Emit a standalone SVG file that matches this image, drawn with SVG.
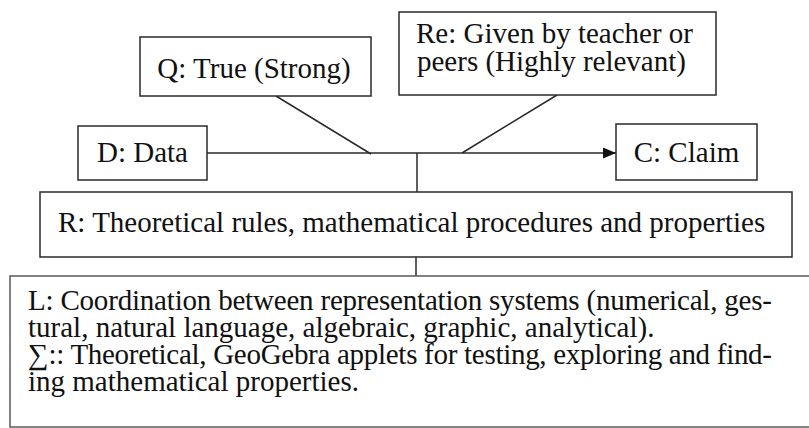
<svg xmlns="http://www.w3.org/2000/svg" width="809" height="428" viewBox="0 0 809 428">
<style>
  .box { fill: #ffffff; stroke: #2a2a2a; stroke-width: 1.5; }
  .boxL { fill: #ffffff; stroke: #5a5a5a; stroke-width: 1.5; }
  .t { font-family: "Liberation Serif", "Times New Roman", serif; font-size: 29px; fill: #111111; }
  .c { text-anchor: middle; }
  .edge { stroke: #2a2a2a; stroke-width: 1.5; fill: none; }
</style>
<defs>
  <marker id="arrow" viewBox="0 0 13 11" refX="13" refY="5.5" markerWidth="13" markerHeight="11" markerUnits="userSpaceOnUse" orient="auto">
    <path d="M0,0 L13,5.5 L0,11 Z" fill="#111111"/>
  </marker>
</defs>
<rect width="809" height="428" fill="#ffffff"/>
<g id="connectors">
  <line class="edge" x1="207" y1="153" x2="616" y2="153" marker-end="url(#arrow)"/>
  <line class="edge" x1="276" y1="96" x2="371" y2="154"/>
  <line class="edge" x1="557" y1="95" x2="462" y2="153"/>
  <line class="edge" x1="417" y1="153" x2="417" y2="192"/>
  <line class="edge" x1="416" y1="257" x2="416" y2="276"/>
</g>
<g id="node-Q">
  <rect class="box" x="140" y="37" width="231" height="59"/>
  <text class="t c" x="254" y="78">Q: True (Strong)</text>
</g>
<g id="node-Re">
  <rect class="box" x="399" y="12" width="317" height="83"/>
  <text class="t" x="416" y="43">Re: Given by teacher or</text>
  <text class="t" x="417" y="71">peers (Highly relevant)</text>
</g>
<g id="node-D">
  <rect class="box" x="78" y="126" width="129" height="54"/>
  <text class="t c" x="142.5" y="162">D: Data</text>
</g>
<g id="node-C">
  <rect class="box" x="616" y="124" width="141" height="56"/>
  <text class="t c" x="686.5" y="162">C: Claim</text>
</g>
<g id="node-R">
  <rect class="box" x="40" y="192" width="752" height="65"/>
  <text class="t" x="58" y="232">R: Theoretical rules, mathematical procedures and properties</text>
</g>
<g id="node-L">
  <rect class="boxL" x="10" y="276" width="810" height="151"/>
  <text class="t" x="28" y="310" textLength="744" lengthAdjust="spacing">L: Coordination between representation systems (numerical, ges-</text>
  <text class="t" x="28" y="337">tural, natural language, algebraic, graphic, analytical).</text>
  <text class="t" x="28" y="364" textLength="744" lengthAdjust="spacing">∑:: Theoretical, GeoGebra applets for testing, exploring and find-</text>
  <text class="t" x="28" y="391">ing mathematical properties.</text>
</g>
</svg>
